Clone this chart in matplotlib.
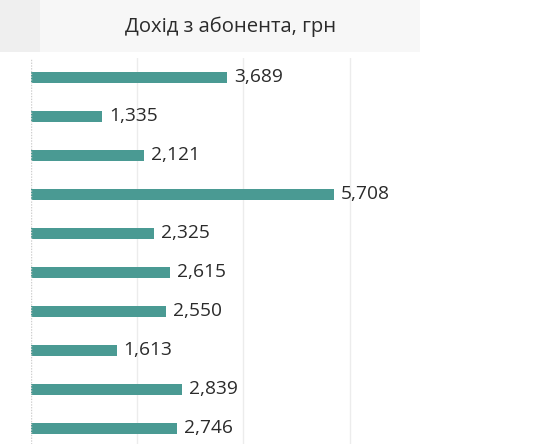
import matplotlib
matplotlib.use('Agg')
import matplotlib.pyplot as plt
from matplotlib.patches import Rectangle

# Revenue per subscriber, top to bottom
values = [3689, 1335, 2121, 5708, 2325, 2615, 2550, 1613, 2839, 2746]
labels = ['{:,}'.format(v) for v in values]
title = 'Дохід з абонента, грн'
grid_ticks = [2000, 4000, 6000]

plt.rcParams['font.family'] = ['Open Sans', 'DejaVu Sans']

W, H = 554, 444
fig = plt.figure(figsize=(W / 100, H / 100), dpi=100)

# header band
fig.patches.append(Rectangle((0, 1 - 52 / H), 420 / W, 52 / H, transform=fig.transFigure,
                             facecolor='#f7f7f7', edgecolor='none'))
fig.patches.append(Rectangle((0, 1 - 52 / H), 40 / W, 52 / H, transform=fig.transFigure,
                             facecolor='#efefef', edgecolor='none'))
fig.text(231 / W, 1 - 27 / H, title, ha='center', va='center', fontsize=14.6, color='#2b2b2b')

ax = fig.add_axes([31 / W, 0, (420 - 31) / W, (H - 58) / H])
ypos = list(range(len(values)))
ax.barh(ypos, values, height=0.275, color='#4a9a93')
for y, v, lab in zip(ypos, values, labels):
    ax.text(v + 130, y, lab, va='center', ha='left', fontsize=13.8, color='#2b2b2b')

ax.set_xlim(0, 7326)
ax.set_ylim(9.40, -0.495)
for g in grid_ticks:
    ax.axvline(g, color='#ececec', lw=1, zorder=0)
ax.axvline(0, color='#cfcfcf', lw=1, ls=(0, (1, 1)), zorder=3)
for s in ax.spines.values():
    s.set_visible(False)
ax.set_xticks([])
ax.set_yticks([])

fig.savefig('out.png', dpi=100)
